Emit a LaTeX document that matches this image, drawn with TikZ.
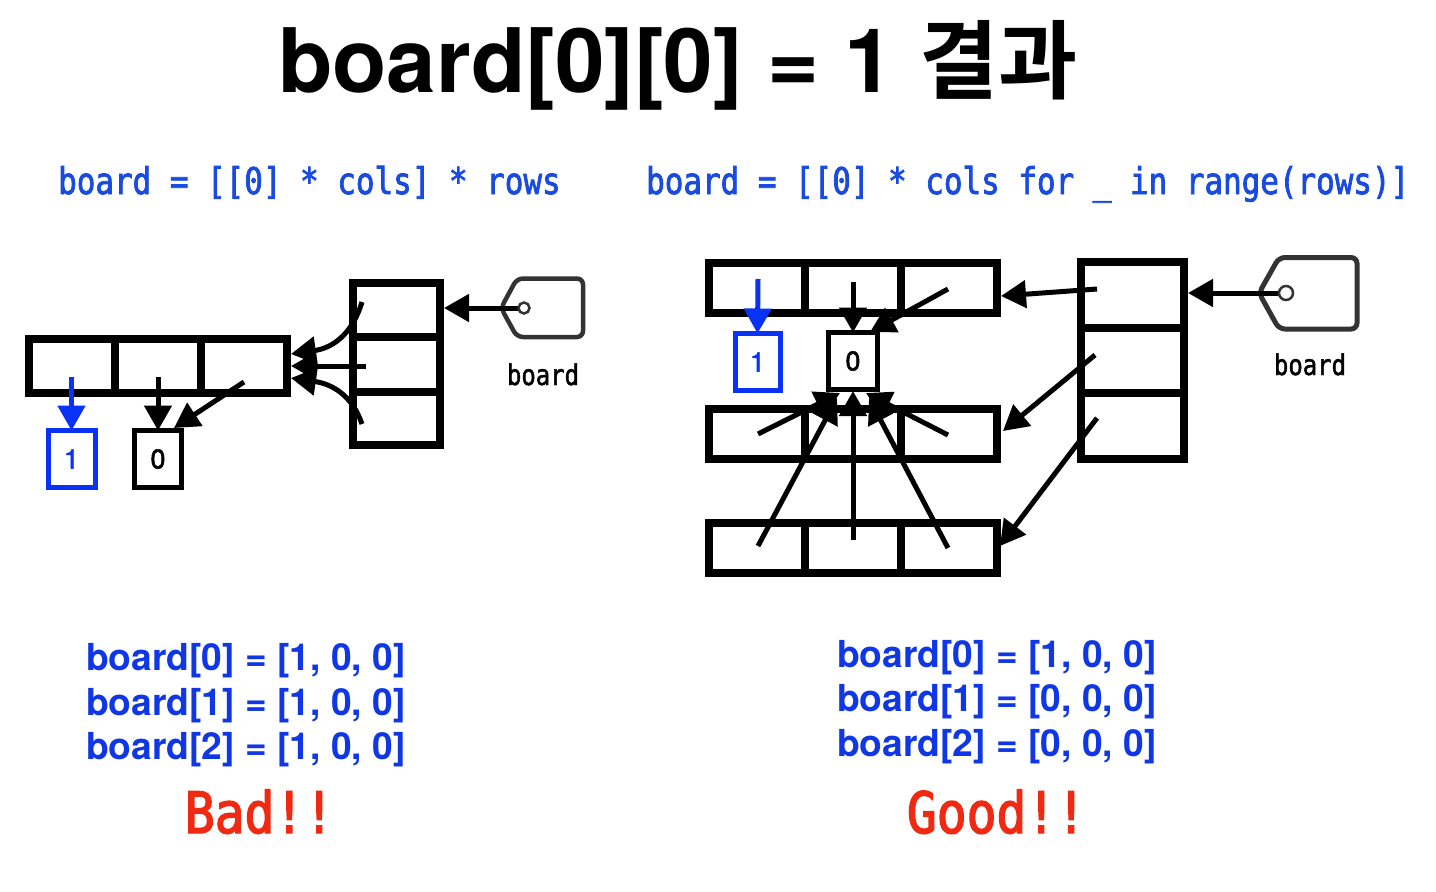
\documentclass[tikz,border=0pt]{standalone}
\usepackage{fontspec}
\setmainfont{TeX Gyre Heros}
\newfontfamily\krfont{Noto Sans CJK KR Bold}
\newfontfamily\codefont[FakeStretch=0.84,FakeBold=2]{DejaVu Sans Mono}
\newfontfamily\labfont[FakeStretch=0.84,FakeBold=1.5]{DejaVu Sans Mono}
\newfontfamily\redfont[FakeStretch=0.87,FakeBold=2.5]{DejaVu Sans Mono}
\newfontfamily\numfont[FakeBold=2]{TeX Gyre Heros}
\usetikzlibrary{arrows.meta}
\definecolor{codeblue}{HTML}{1A4BE0}
\definecolor{resblue}{HTML}{0F37E6}
\definecolor{boxblue}{HTML}{0A32F5}
\definecolor{badred}{HTML}{F02A12}
\definecolor{tagc}{HTML}{333333}
\newcommand{\sz}[2]{\fontsize{#1}{#2}\selectfont}
\tikzset{
  x=1pt,y=-1pt,
  cell/.style={draw=black,line width=8pt,inner sep=0pt,outer sep=0pt},
  lcell/.style={cell,minimum width=86pt,minimum height=54pt},
  rcell/.style={cell,minimum width=96pt,minimum height=50pt},
  valbox/.style={draw=black,line width=5pt,inner sep=0pt,outer sep=0pt,minimum width=#1,minimum height=57pt,font=\numfont\sz{27}{27}},
  bluebox/.style={valbox=#1,draw=boxblue,text=boxblue},
  ptr/.style={draw=black,line width=5pt,-{Triangle[length=25pt,width=27pt]}},
  blueptr/.style={ptr,draw=boxblue,-{Triangle[length=25pt,width=27pt,fill=boxblue]}},
  code/.style={text=codeblue,anchor=base west,inner sep=0pt,font=\codefont\sz{36.8}{36.8}},
  res/.style={text=resblue,anchor=base west,inner sep=0pt,font=\bfseries\sz{37.2}{37.2}},
  red/.style={text=badred,anchor=base,inner sep=0pt,font=\redfont\sz{57}{57}},
  tagl/.style={anchor=base,inner sep=0pt,font=\labfont\sz{28.5}{28.5}},
  tag/.style={draw=tagc,line width=#1,rounded corners=6pt},
  ring/.style={draw=tagc,circle,fill=white,line width=2.5pt,inner sep=0pt,minimum size=#1,outer sep=0pt},
}
\begin{document}
\begin{tikzpicture}
\useasboundingbox (0,0) rectangle (1436,892);
\fill[white] (0,0) rectangle (1436,892);
\node[anchor=base west,inner sep=0pt,font=\bfseries\sz{89}{89}] (title) at (278,92) {board[0][0] = 1};
\node[anchor=base west,inner sep=0pt,font=\krfont\sz{86}{86}] (titlekr) at (919,92) {결과};
\node[code] (codeL) at (58,194) {board = [[0] * cols] * rows};
\node[code] (codeR) at (646,194) {board = [[0] * cols for \_ in range(rows)]};

% left structure
\node[lcell] (la) at (72,366) {};
\node[lcell] (lb) at (158,366) {};
\node[lcell] (lc) at (244,366) {};
\node[cell,minimum width=87pt,minimum height=54pt] (c1) at (396.5,310) {};
\node[cell,minimum width=87pt,minimum height=55pt] (c2) at (396.5,364) {};
\node[cell,minimum width=87pt,minimum height=53pt] (c3) at (396.5,418) {};
\node[bluebox=47pt] (one) at (71.5,459) {1};
\node[valbox=47pt] (zero) at (158,459) {0};
\draw[tag=4.5pt] (501,308) -- (517,278.5) -- (583,278.5) -- (583,337) -- (517,337) -- cycle;
\node[tagl] (lboard) at (543,385) {board};
\coordinate (p1) at (71.5,377);
\coordinate (p2) at (158,377);
\coordinate (p3) at (244,382);
\coordinate (q1) at (362,302);
\coordinate (q2) at (366,366);
\coordinate (q3) at (362,424);
\coordinate (r1) at (291,354);
\coordinate (r2) at (291,366);
\coordinate (r3) at (291,378);
\coordinate (c1e) at (444,308);
\coordinate (lringc) at (524,308);
\draw[blueptr] (p1) -- (one.north);
\draw[ptr] (p2) -- (zero.north);
\draw[ptr] (p3) -- (174,428);
\draw[ptr] (q1) .. controls (352,335) and (332,348) .. (r1);
\draw[ptr] (q2) -- (r2);
\draw[ptr] (q3) .. controls (352,395) and (332,384) .. (r3);
\draw[ptr] (lringc) -- (c1e);
\node[ring=11pt] (lring) at (lringc) {};

% right structure
\foreach \y/\n in {288/a,433.5/b,548/c}{
  \node[rcell] (r\n1) at (757,\y) {};
  \node[rcell] (r\n2) at (853,\y) {};
  \node[rcell] (r\n3) at (948.5,\y) {};
}
\node[cell,minimum width=103pt,minimum height=66pt] (d1) at (1132,295) {};
\node[cell,minimum width=103pt,minimum height=65pt] (d2) at (1132,360.5) {};
\node[cell,minimum width=103pt,minimum height=66pt] (d3) at (1132,426) {};
\node[bluebox=45pt] (oneR) at (757.5,362) {1};
\node[valbox=49pt] (zeroR) at (853,361) {0};
\draw[tag=5pt] (1259,293) -- (1279,257.5) -- (1357,257.5) -- (1357,329) -- (1279,329) -- cycle;
\node[tagl] (rboard) at (1310,375) {board};
\coordinate (s1) at (758,279);
\coordinate (s2) at (853,282);
\coordinate (s3) at (948,289);
\coordinate (s4) at (758,434);
\coordinate (s5) at (948,435);
\coordinate (s6) at (758,546);
\coordinate (s7) at (853,540);
\coordinate (s8) at (948,548);
\coordinate (t4) at (840,393);
\coordinate (t5) at (866,393);
\coordinate (t6) at (837,398);
\coordinate (t7) at (853,391);
\coordinate (t8) at (869,398);
\coordinate (u1) at (1097,289);
\coordinate (u2) at (1095,355);
\coordinate (u3) at (1097,418);
\coordinate (v1) at (1001,296);
\coordinate (v2) at (1003,431);
\coordinate (v3) at (1000,546);
\coordinate (d1e) at (1188,293);
\coordinate (rringc) at (1286,293);
\draw[blueptr] (s1) -- (oneR.north);
\draw[ptr] (s2) -- (zeroR.north);
\draw[ptr] (s3) -- (870,332);
\draw[ptr] (s4) -- (t4);
\draw[ptr] (s5) -- (t5);
\draw[ptr] (s6) -- (t6);
\draw[ptr] (s7) -- (t7);
\draw[ptr] (s8) -- (t8);
\draw[ptr] (u1) -- (v1);
\draw[ptr] (u2) -- (v2);
\draw[ptr] (u3) -- (v3);
\draw[ptr] (rringc) -- (d1e);
\node[ring=14pt] (rring) at (rringc) {};

% result text
\node[res] (l0) at (86,670) {board[0] = [1, 0, 0]};
\node[res] (l1) at (86,715) {board[1] = [1, 0, 0]};
\node[res] (l2) at (86,759) {board[2] = [1, 0, 0]};
\node[res] (m0) at (837,667) {board[0] = [1, 0, 0]};
\node[res] (m1) at (837,711) {board[1] = [0, 0, 0]};
\node[res] (m2) at (837,756) {board[2] = [0, 0, 0]};
\node[red] (bad) at (259.5,833) {Bad!!};
\node[red] (good) at (996.5,833) {Good!!};
\end{tikzpicture}
\end{document}
